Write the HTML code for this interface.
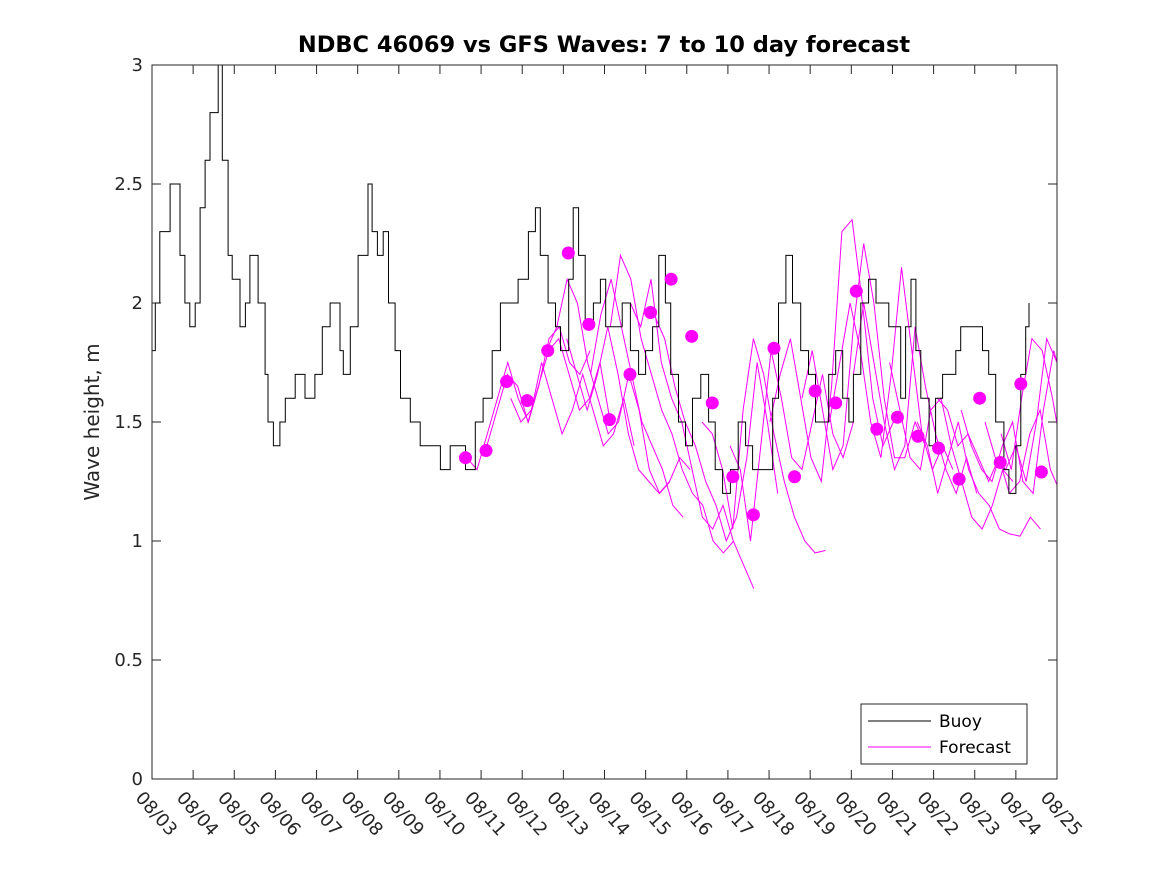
<!DOCTYPE html>
<html><head><meta charset="utf-8"><style>
html,body{margin:0;padding:0;background:#fff;}
svg{display:block;font-family:"DejaVu Sans","Liberation Sans",sans-serif;}
</style></head><body>
<svg id="chart" width="1167" height="875" viewBox="0 0 1167 875">
<defs><clipPath id="pc"><rect x="152" y="65" width="905" height="714"/></clipPath></defs>
<rect x="0" y="0" width="1167" height="875" fill="#fff"/>
<text x="604" y="52" text-anchor="middle" font-size="22.5" font-weight="bold" fill="#000">NDBC 46069 vs GFS Waves: 7 to 10 day forecast</text>
<text transform="translate(99,422) rotate(-90)" text-anchor="middle" font-size="20" fill="#262626">Wave height, m</text>
<g id="axes"></g>
<g id="forecast" clip-path="url(#pc)"></g>
<g id="buoy" clip-path="url(#pc)"></g>
<g id="dots"></g>
<rect x="152" y="65" width="905" height="714" fill="none" stroke="#262626" stroke-width="1"/>
<g>
<rect x="861" y="704" width="166" height="60" fill="#fff" stroke="#262626" stroke-width="1"/>
<line x1="868" y1="721" x2="931" y2="721" stroke="#000" stroke-width="1"/>
<text x="939" y="727" font-size="17" fill="#000">Buoy</text>
<line x1="868" y1="747" x2="931" y2="747" stroke="#f0f" stroke-width="1"/>
<text x="939" y="753" font-size="17" fill="#000">Forecast</text>
</g>
</svg>
<script>
const xTickLabels=["08/03","08/04","08/05","08/06","08/07","08/08","08/09","08/10","08/11","08/12","08/13","08/14","08/15","08/16","08/17","08/18","08/19","08/20","08/21","08/22","08/23","08/24","08/25"];
const yTicks=[0,0.5,1,1.5,2,2.5,3];
const yTickLabels=["0","0.5","1","1.5","2","2.5","3"];
const buoyDay=[0,0.08,0.19,0.44,0.63,0.68,0.80,0.92,1.05,1.17,1.29,1.41,1.61,1.71,1.85,1.95,2.14,2.27,2.38,2.58,2.75,2.82,2.95,3.11,3.24,3.48,3.72,3.96,4.14,4.33,4.57,4.65,4.82,5.01,5.25,5.35,5.48,5.62,5.75,5.91,6.04,6.28,6.52,6.76,7.01,7.25,7.49,7.62,7.86,8.05,8.27,8.47,8.71,8.90,9.15,9.32,9.44,9.63,9.81,9.93,10.13,10.24,10.37,10.53,10.73,10.90,11.03,11.27,11.43,11.63,11.83,12.00,12.17,12.32,12.48,12.61,12.80,12.97,13.14,13.34,13.53,13.69,13.87,14.06,14.25,14.43,14.60,14.84,14.99,15.09,15.23,15.41,15.57,15.77,15.96,16.13,16.31,16.45,16.62,16.79,16.94,17.05,17.23,17.42,17.60,17.76,17.91,18.08,18.20,18.32,18.45,18.57,18.69,18.89,19.05,19.22,19.37,19.54,19.66,19.85,20.03,20.19,20.34,20.51,20.71,20.83,21.00,21.12,21.24,21.32];
const buoyVal=[1.8,2.0,2.3,2.5,2.5,2.2,2.0,1.9,2.0,2.4,2.6,2.8,3.0,2.6,2.2,2.1,1.9,2.0,2.2,2.0,1.7,1.5,1.4,1.5,1.6,1.7,1.6,1.7,1.9,2.0,1.8,1.7,1.9,2.2,2.5,2.3,2.2,2.3,2.0,1.8,1.6,1.5,1.4,1.4,1.3,1.4,1.4,1.3,1.5,1.6,1.8,2.0,2.0,2.1,2.3,2.4,2.2,2.0,1.9,1.8,2.1,2.4,2.2,1.9,2.0,2.1,1.9,1.9,2.0,1.8,1.7,1.8,1.9,2.2,2.0,1.7,1.5,1.4,1.6,1.7,1.5,1.3,1.2,1.3,1.5,1.4,1.3,1.3,1.3,1.6,2.0,2.2,2.0,1.8,1.7,1.5,1.5,1.7,1.8,1.6,1.5,1.7,2.0,2.1,2.0,2.0,1.9,1.9,1.6,1.9,2.1,1.8,1.6,1.4,1.6,1.7,1.7,1.8,1.9,1.9,1.9,1.8,1.7,1.5,1.3,1.2,1.4,1.7,1.9,2.0];
const dotStart=7.62;
const dotVal=[1.35,1.38,1.67,1.59,1.80,2.21,1.91,1.51,1.70,1.96,2.10,1.86,1.58,1.27,1.11,1.81,1.27,1.63,1.58,2.05,1.47,1.52,1.44,1.39,1.26,1.60,1.33,1.66,1.29];
const runStart=[7.65,8.14,8.72,9.59,10.08,10.66,11.14,11.63,12.21,13.37,14.05,15.02,15.80,16.47,17.05,17.93,18.60,19.09,19.67,20.25,20.64];
const runVals=[
[1.35,1.3,1.45,1.6,1.75,1.6,1.5,1.65,1.85,1.9,1.75,1.7,1.8],
[1.4,1.55,1.7,1.65,1.5,1.65,1.8,1.85,1.7,1.55,1.6,1.75,1.5],
[1.6,1.5,1.55,1.75,1.6,1.45,1.55,1.7,1.55,1.4,1.45,1.6,1.4],
[1.8,1.9,2.1,2.0,1.75,1.6,1.45,1.5,1.7,1.55,1.3,1.2,1.25],
[1.85,1.7,1.55,1.7,1.9,1.7,1.45,1.3,1.25,1.2,1.25,1.35,1.3],
[1.7,1.95,2.1,1.9,1.7,1.5,1.4,1.3,1.15,1.1],
[1.9,2.2,2.1,1.85,1.7,1.55,1.45,1.3,1.2,1.15,1.0,0.95,1.0],
[2.0,1.9,2.1,1.75,1.6,1.5,1.3,1.1,1.05,1.15,1.0,0.9,0.8],
[1.95,1.85,1.65,1.5,1.4,1.25,1.15,1.0,1.1,1.35,1.75,1.5,1.2],
[1.5,1.45,1.3,1.05,1.55,1.85,1.7,1.45,1.25,1.1,1.0,0.95,0.96],
[1.4,1.3,1.0,1.4,1.8,1.6,1.35,1.3,1.5,1.7,1.45,1.35,1.5],
[1.5,1.7,1.85,1.6,1.35,1.25,1.65,2.3,2.35,2.0,1.6,1.4,1.5],
[1.6,1.8,1.55,1.3,1.4,1.9,2.25,2.0,1.6,1.35,1.35,1.5,1.4],
[1.5,1.75,2.0,1.8,1.5,1.35,1.7,2.15,1.8,1.45,1.3,1.4,1.3],
[1.7,2.0,1.75,1.5,1.3,1.4,1.9,1.65,1.45,1.3,1.2,1.35,1.2],
[1.75,1.55,1.35,1.3,1.55,1.6,1.4,1.25,1.1,1.05,1.15,1.3,1.25],
[1.5,1.4,1.2,1.35,1.5,1.3,1.2,1.15,1.05,1.03,1.02,1.1,1.05],
[1.6,1.55,1.4,1.45,1.35,1.25,1.35,1.2,1.25,1.45,1.55,1.3,1.2],
[1.55,1.4,1.3,1.25,1.4,1.5,1.25,1.2,1.55,1.8,1.65,1.4,1.2],
[1.5,1.35,1.3,1.4,1.25,1.5,1.85,1.75,1.5,1.2,1.12,1.12,1.15],
[1.45,1.3,1.6,1.85,1.8,1.6,1.35,1.3,1.5,1.55]
];
const runStep=0.25;
const X0=152,X1=1057,Y0=779,Y1=65,DAYS=22,YMAX=3;
function xs(d){return X0+(X1-X0)*d/DAYS;}
function ys(v){return Y0-(Y0-Y1)*v/YMAX;}
const NS="http://www.w3.org/2000/svg";
function mk(tag,attrs,parent){const e=document.createElementNS(NS,tag);for(const k in attrs)e.setAttribute(k,attrs[k]);parent.appendChild(e);return e;}
const axes=document.getElementById('axes');
xTickLabels.forEach((lab,i)=>{
  const x=xs(i);
  const t1=mk('line',{x1:x,y1:Y0,x2:x,y2:Y0-9,stroke:'#262626'},axes);
  
  
  const t2=mk('line',{x1:x,y1:Y1,x2:x,y2:Y1+9,stroke:'#262626'},axes);
  
  
  const tx=mk('text',{transform:`translate(${x-8},${Y0+11}) rotate(48)`,'font-size':'18',fill:'#262626',dy:'0.7em'},axes);
  tx.textContent=lab;
  
  
});
yTicks.forEach((v,i)=>{
  const y=ys(v);
  const a=mk('line',{x1:X0,y1:y,x2:X0+9,y2:y,stroke:'#262626'},axes);
  
  
  const b=mk('line',{x1:X1,y1:y,x2:X1-9,y2:y,stroke:'#262626'},axes);
  
  
  const tx=mk('text',{x:X0-9,y:y+6,'text-anchor':'end','font-size':'18',fill:'#262626'},axes);
  tx.textContent=yTickLabels[i];
  
  
});
const fg=document.getElementById('forecast');
runVals.forEach((vals,r)=>{
  const pts=vals.map((v,i)=>xs(runStart[r]+i*runStep).toFixed(1)+','+ys(v).toFixed(1)).join(' ');
  const pl=mk('polyline',{points:pts,fill:'none',stroke:'#f0f','stroke-width':'1'},fg);
  
  
});
const bg=document.getElementById('buoy');
let d='';
buoyDay.forEach((t,i)=>{
  const x=xs(t).toFixed(1),y=ys(buoyVal[i]).toFixed(1);
  if(i===0)d+=`M${x},${y}`;else d+=`H${x}V${y}`;
});
const bp=mk('path',{d:d,fill:'none',stroke:'#000','stroke-width':'1'},bg);


const dg=document.getElementById('dots');
dotVal.forEach((v,i)=>{
  const c=mk('circle',{cx:xs(dotStart+i*0.5),cy:ys(v),r:6.5,fill:'#f0f'},dg);
  
  
});
</script>
</body></html>
